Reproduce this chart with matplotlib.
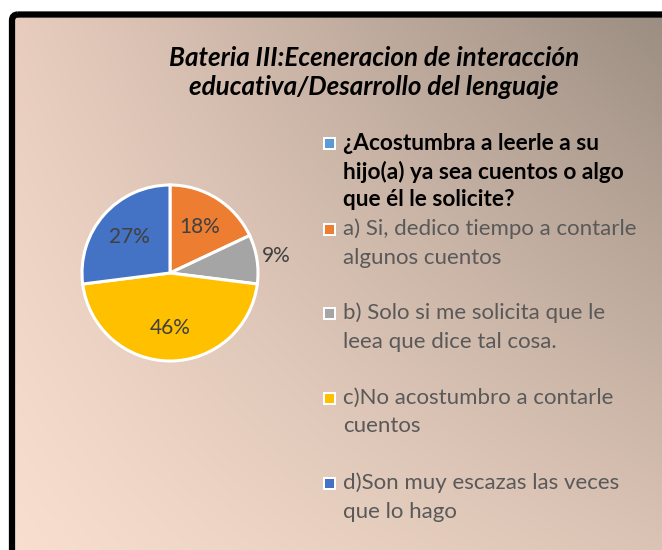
import numpy as np
import matplotlib
matplotlib.use("Agg")
import matplotlib.pyplot as plt
from matplotlib.patches import Rectangle, FancyBboxPatch

# Data
labels = [
    "¿Acostumbra a leerle a su\nhijo(a) ya sea cuentos o algo\nque él le solicite?",
    "a) Si, dedico tiempo a contarle\nalgunos cuentos",
    "b) Solo si me solicita que le\nleea que dice tal cosa.",
    "c)No acostumbro a contarle\ncuentos",
    "d)Son muy escazas las veces\nque lo hago",
]
values = [0, 18, 9, 46, 27]
colors = ["#5B9BD5", "#ED7D31", "#A5A5A5", "#FFC000", "#4472C4"]
title = "Bateria III:Eceneracion de interacción\neducativa/Desarrollo del lenguaje"

W, H = 662, 550
fig = plt.figure(figsize=(W / 100, H / 100), dpi=100)
fig.patch.set_facecolor("white")

# background gradient (bilinear between corners)
bg = fig.add_axes([0, 0, 1, 1], zorder=-5)
tl = np.array([232, 205, 190]) / 255
tr = np.array([155, 141, 129]) / 255
bl = np.array([248, 223, 208]) / 255
br = np.array([220, 196, 181]) / 255
yy, xx = np.mgrid[0:1:200j, 0:1:240j]
img = ((1 - xx)[..., None] * ((1 - yy)[..., None] * tl + yy[..., None] * bl)
       + xx[..., None] * ((1 - yy)[..., None] * tr + yy[..., None] * br))
bg.imshow(img, extent=[15, W + 10, H + 10, 17], aspect="auto")
bg.set_xlim(0, W)
bg.set_ylim(H, 0)
bg.axis("off")
# black frame (top and left only visible)
bg.add_patch(FancyBboxPatch((12, 14.5), W + 40, H + 40,
                            boxstyle="round,pad=0,rounding_size=6",
                            fill=False, ec="black", lw=4.5))

# pie
cx, cy, r = 170, 273, 88
box = 1.3 * r
ax = fig.add_axes([(cx - box) / W, (H - cy - box) / H, 2 * box / W, 2 * box / H])
pv = [v for v in values if v > 0]
pc = [c for v, c in zip(values, colors) if v > 0]
wedges, _ = ax.pie(pv, colors=pc, startangle=90, counterclock=False,
                   wedgeprops=dict(edgecolor="white", linewidth=2.2))
ax.set_xlim(-1.3, 1.3)
ax.set_ylim(-1.3, 1.3)
ax.set_aspect("equal")
ax.axis("off")
total = sum(pv)
for w, v in zip(wedges, pv):
    ang = np.radians((w.theta1 + w.theta2) / 2)
    d = 1.22 if v < 10 else 0.62
    ax.text(d * np.cos(ang), d * np.sin(ang), f"{v / total * 100:.0f}%",
            ha="center", va="center", fontsize=15, color="#404040",
            family="Lato")

# title, one line at a time
for k, line in enumerate(title.split("\n")):
    bg.text(374, 58 + 29 * k, line, ha="center", va="center",
            fontsize=18.7, fontweight="bold", fontstyle="italic",
            family="Lato", color="black")

# legend
marker_y = [143, 229, 313, 398, 483]
for i, (lab, col) in enumerate(zip(labels, colors)):
    y0 = marker_y[i]
    bg.add_patch(Rectangle((323, y0 - 6.5), 13, 13, fc="white", ec="none"))
    bg.add_patch(Rectangle((325, y0 - 4.5), 9, 9, fc=col, ec="none"))
    for k, line in enumerate(lab.split("\n")):
        if i == 0:
            bg.text(343, y0 + 28.5 * k, line, ha="left", va="center",
                    fontsize=16.3, fontweight="bold", color="black",
                    family="Lato")
        else:
            bg.text(343, y0 + 28.5 * k, line, ha="left", va="center",
                    fontsize=16, color="#595959", family="Lato")

fig.savefig("out.png", dpi=100)
